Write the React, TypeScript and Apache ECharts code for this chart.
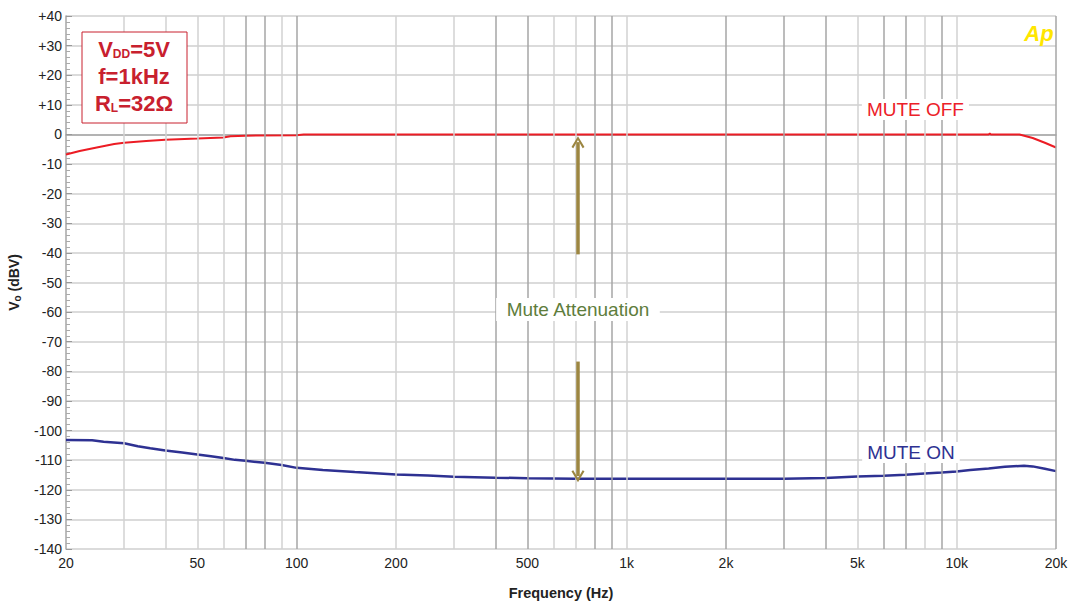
import React, { useEffect, useRef } from "react";
import * as echarts from "echarts";

const muteOff: [number, number][] = [
  [20, -6.8], [22, -5.6], [25, -4.3], [28, -3.2], [30, -2.8], [35, -2.2], [40, -1.8],
  [50, -1.4], [60, -1.0], [63, -0.6], [70, -0.4], [100, -0.3], [105, 0], [12500, 0],
  [12600, 0.3], [12700, 0], [15500, 0], [17000, -1.2], [18500, -2.8], [20000, -4.4],
];

const muteOn: [number, number][] = [
  [20, -103.2], [24, -103.3], [26, -103.8], [30, -104.3], [33, -105.3], [36, -106.0],
  [40, -106.7], [45, -107.4], [50, -108.1], [55, -108.7], [60, -109.3], [65, -109.9],
  [70, -110.2], [80, -110.9], [90, -111.6], [100, -112.6], [120, -113.3], [150, -114.0],
  [200, -114.8], [250, -115.2], [300, -115.6], [400, -115.9], [500, -116.1], [700, -116.3],
  [1000, -116.3], [2000, -116.3], [3000, -116.3], [4000, -116.0], [5000, -115.5],
  [6000, -115.3], [7000, -114.9], [8000, -114.5], [9000, -114.2], [10000, -113.8],
  [11000, -113.3], [12500, -112.8], [14000, -112.2], [16000, -111.9], [17000, -112.1],
  [18500, -112.9], [20000, -113.7],
];

const darkGrid = [70, 80, 100, 400, 500, 800, 900, 2000, 3000, 4000, 6000, 7000, 9000, 20000];
const lightGrid = [30, 40, 50, 60, 90, 200, 300, 600, 700, 1000, 5000, 8000, 10000];
const xTickValues = [20, 50, 100, 200, 500, 1000, 2000, 5000, 10000, 20000];
const xTickLabels = ["20", "50", "100", "200", "500", "1k", "2k", "5k", "10k", "20k"];

const arrowFreq = 712;
const arrowUp: [number, number] = [-40.5, -2.6];
const arrowDown: [number, number] = [-76.7, -115.4];

const FONT = "Liberation Sans, Arial, sans-serif";

export default function App() {
  const ref = useRef<HTMLDivElement>(null);
  useEffect(() => {
    if (!ref.current) return;
    const chart = echarts.init(ref.current, null, { renderer: "svg" });

    const chevron = "path://M0,10 L5,0 L10,10 L8.6,11 L5,3.6 L1.4,11 Z";

    const gridData: any[] = [];
    darkGrid.forEach((f) =>
      gridData.push({ xAxis: f, lineStyle: { color: "#a6a6a6", width: 1.5, type: "solid" }, label: { show: false } })
    );
    lightGrid.forEach((f) =>
      gridData.push({ xAxis: f, lineStyle: { color: "#d2d2d2", width: 1.5, type: "solid" }, label: { show: false } })
    );
    xTickValues.forEach((f, i) =>
      gridData.push({
        xAxis: f,
        lineStyle: { color: "rgba(255,255,255,0)", width: 0.1, type: "solid" },
        label: {
          show: true,
          position: "start",
          formatter: xTickLabels[i],
          color: "#222",
          fontSize: 14,
          fontFamily: FONT,
          distance: 7,
        },
      })
    );

    const labelBase = { show: true, position: "inside", fontSize: 19, fontFamily: FONT, backgroundColor: "#fff" };

    chart.setOption({
      animation: false,
      backgroundColor: "#fff",
      textStyle: { fontFamily: FONT },
      grid: { left: 66, right: 16, top: 16, bottom: 54, containLabel: false, outerBoundsMode: "none" },
      xAxis: {
        type: "log",
        logBase: 10,
        min: 20,
        max: 20000,
        axisLabel: { show: false },
        axisTick: { show: false },
        splitLine: { show: false },
        axisLine: { show: true, lineStyle: { color: "#a6a6a6", width: 1.5 } },
        name: "Frequency (Hz)",
        nameLocation: "middle",
        nameGap: 36,
        nameTextStyle: { fontWeight: "bold", fontSize: 14.5, color: "#222", fontFamily: FONT },
      },
      yAxis: {
        type: "value",
        min: -140,
        max: 40,
        interval: 10,
        axisLine: { show: true, lineStyle: { color: "#a6a6a6", width: 1.5 } },
        axisTick: { show: true, inside: true, length: 6, lineStyle: { color: "#999" } },
        minorTick: { show: true, splitNumber: 5, length: 4, lineStyle: { color: "#aaa" } },
        splitLine: { show: true, lineStyle: { color: "#cfcfcf", width: 1.5 } },
        axisLabel: {
          color: "#222",
          fontSize: 14,
          fontFamily: FONT,
          margin: 4,
          formatter: (v: number) => (v > 0 ? "+" + v : String(v)),
        },
        name: "{b|V}{s|o}{b| (dBV)}",
        nameLocation: "middle",
        nameGap: 44,
        nameTextStyle: {
          rich: {
            b: { fontWeight: "bold", fontSize: 14, color: "#222", fontFamily: FONT },
            s: { fontWeight: "bold", fontSize: 10, color: "#222", fontFamily: FONT, padding: [6, 0, 0, 0] },
          },
        },
      },
      series: [
        {
          type: "scatter",
          data: [],
          z: 1,
          silent: true,
          markLine: {
            silent: true,
            symbol: ["none", "none"],
            animation: false,
            data: gridData,
          },
        },
        {
          name: "MUTE OFF",
          type: "line",
          data: muteOff,
          showSymbol: false,
          symbol: "none",
          z: 3,
          lineStyle: { color: "#ec1c24", width: 2 },
          markPoint: {
            symbol: "circle",
            symbolSize: 0,
            silent: true,
            data: [
              {
                coord: [7500, 8.4],
                label: { ...labelBase, formatter: "MUTE OFF", color: "#ec2028", padding: [1, 5] },
              },
              {
                coord: [arrowFreq, -59.1],
                label: { ...labelBase, formatter: "Mute Attenuation", color: "#5e7d3c", padding: [2, 10] },
              },
            ],
          },
          markLine: {
            silent: true,
            symbol: ["none", chevron],
            symbolSize: [13, 12],
            lineStyle: { color: "#9c8641", width: 3.5, type: "solid" },
            label: { show: false },
            data: [
              [{ coord: [arrowFreq, arrowUp[0]] }, { coord: [arrowFreq, arrowUp[1]] }],
              [{ coord: [arrowFreq, arrowDown[0]] }, { coord: [arrowFreq, arrowDown[1]] }],
            ],
          },
        },
        {
          name: "MUTE ON",
          type: "line",
          data: muteOn,
          showSymbol: false,
          symbol: "none",
          z: 3,
          lineStyle: { color: "#2e3192", width: 2.5 },
          markPoint: {
            symbol: "circle",
            symbolSize: 0,
            silent: true,
            data: [
              {
                coord: [7270, -107.4],
                label: { ...labelBase, formatter: "MUTE ON", color: "#2e3192", padding: [1, 5] },
              },
            ],
          },
        },
      ],
      graphic: [
        {
          type: "rect",
          z: 10,
          shape: { x: 82, y: 32, width: 105, height: 91 },
          style: { fill: "#fff", stroke: "#c8202e", lineWidth: 1 },
        },
        {
          type: "text",
          z: 11,
          x: 134,
          y: 49,
          style: {
            text: "{b|V}{s|DD}{b|=5V}",
            align: "center",
            verticalAlign: "middle",
            textAlign: "center",
            textVerticalAlign: "middle",
            rich: {
              b: { fontSize: 22, fontWeight: "bold", fill: "#c8202e", color: "#c8202e", fontFamily: FONT },
              s: { fontSize: 12, fontWeight: "bold", fill: "#c8202e", color: "#c8202e", fontFamily: FONT, padding: [9, 0, 0, 0] },
            },
          },
        },
        {
          type: "text",
          z: 11,
          x: 134,
          y: 76,
          style: {
            text: "f=1kHz",
            align: "center",
            verticalAlign: "middle",
            textAlign: "center",
            textVerticalAlign: "middle",
            font: "bold 22px " + FONT,
            fill: "#c8202e",
          },
        },
        {
          type: "text",
          z: 11,
          x: 134,
          y: 103,
          style: {
            text: "{b|R}{s|L}{b|=32Ω}",
            align: "center",
            verticalAlign: "middle",
            textAlign: "center",
            textVerticalAlign: "middle",
            rich: {
              b: { fontSize: 22, fontWeight: "bold", fill: "#c8202e", color: "#c8202e", fontFamily: FONT },
              s: { fontSize: 12, fontWeight: "bold", fill: "#c8202e", color: "#c8202e", fontFamily: FONT, padding: [9, 0, 0, 0] },
            },
          },
        },
        {
          type: "text",
          z: 11,
          x: 1039,
          y: 33,
          style: {
            text: "Ap",
            align: "center",
            verticalAlign: "middle",
            textAlign: "center",
            textVerticalAlign: "middle",
            font: "italic bold 22px " + FONT,
            fill: "#ffe600",
          },
        },
      ],
    });
    return () => chart.dispose();
  }, []);
  return <div ref={ref} style={{ width: 1072, height: 603, position: "absolute", left: 0, top: 0 }} />;
}
